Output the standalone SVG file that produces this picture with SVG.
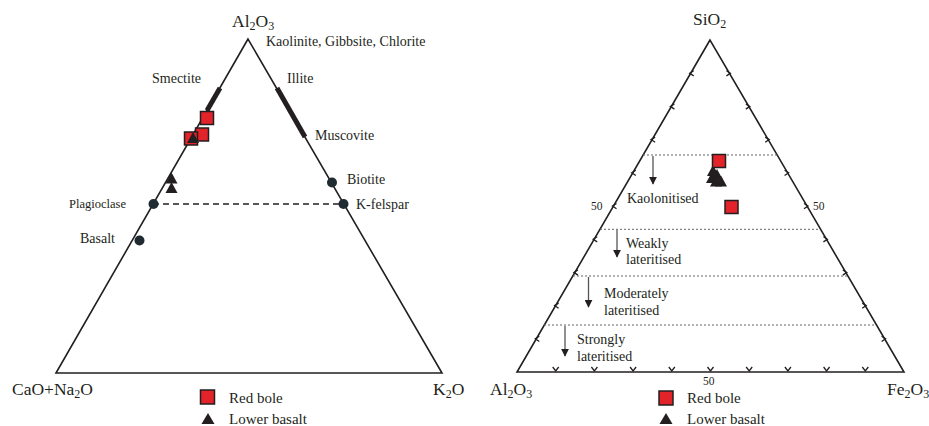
<svg xmlns="http://www.w3.org/2000/svg" width="929" height="426" viewBox="0 0 929 426">
<style>
text{font-family:"Liberation Serif","Times New Roman",serif;fill:#231f20}
.ax{font-size:17.5px}
.sub{font-size:12px}
.lb{font-size:14px}
.lg{font-size:15px}
.n50{font-size:11.5px}
.edge{fill:none;stroke:#231f20;stroke-width:1.6;stroke-linejoin:miter}
.bar{stroke:#231f20;stroke-width:5}
.tick{fill:none;stroke:#231f20;stroke-width:1.3}
.dot{stroke:#666;stroke-width:1;stroke-dasharray:2 2}
.dash{stroke:#231f20;stroke-width:1.5;stroke-dasharray:6 4}
.arr{stroke:#555;stroke-width:1.3;marker-end:url(#ah)}
.mn{fill:#1f2b30}
.sq{fill:#e2232a;stroke:#231f20;stroke-width:1.5}
.tr{fill:#231f20}
</style>
<defs>
<marker id="ah" viewBox="0 0 10 10" refX="9" refY="5" markerWidth="8" markerHeight="8" markerUnits="userSpaceOnUse" orient="auto"><path d="M0,0 L10,5 L0,10Z" fill="#231f20"/></marker>
<rect id="sqr" class="sq" x="-6.5" y="-6.5" width="13" height="13"/>
<path id="tri" class="tr" d="M0,-6 L6,5 L-6,5Z"/>
</defs>

<!-- LEFT TERNARY -->
<g id="left-frame">
<path class="edge" d="M248,39 L56,373 L442,373 Z"/>
</g>
<g id="left-connectors">
<line class="bar" x1="220" y1="88" x2="207" y2="110.5"/>
<line class="bar" x1="277" y1="88" x2="305" y2="137"/>
<line class="dash" x1="153" y1="204" x2="343" y2="204"/>
</g>
<g id="left-labels">
<text class="ax" x="232" y="27">Al<tspan class="sub" dy="3">2</tspan><tspan dy="-3">O</tspan><tspan class="sub" dy="3">3</tspan></text>
<text class="lb" x="266" y="46">Kaolinite, Gibbsite, Chlorite</text>
<text class="lb" x="152" y="83">Smectite</text>
<text class="lb" x="287" y="83">Illite</text>
<text class="lb" x="315" y="140">Muscovite</text>
<text class="ax" x="12" y="395">CaO+Na<tspan class="sub" dy="3">2</tspan><tspan dy="-3">O</tspan></text>
<text class="ax" x="433" y="395">K<tspan class="sub" dy="3">2</tspan><tspan dy="-3">O</tspan></text>
</g>
<g id="node-biotite"><circle class="mn" cx="332" cy="182.5" r="5"/><text class="lb" x="347" y="184">Biotite</text></g>
<g id="node-kfelspar"><circle class="mn" cx="343.5" cy="204" r="5"/><text class="lb" x="356" y="209">K-felspar</text></g>
<g id="node-plagioclase"><circle class="mn" cx="153.5" cy="204" r="5"/><text x="69" y="208" style="font-size:12.5px">Plagioclase</text></g>
<g id="node-basalt"><circle class="mn" cx="139.5" cy="240.5" r="5"/><text class="lb" x="80" y="243">Basalt</text></g>
<g id="left-data">
<use href="#sqr" x="207" y="118"/>
<use href="#sqr" x="202" y="134.5"/>
<use href="#sqr" x="191" y="138.5"/>
<use href="#tri" x="193" y="138"/>
<use href="#tri" x="171.5" y="178.5"/>
<use href="#tri" x="171.5" y="188"/>
</g>
<g id="left-legend">
<rect class="sq" x="200.5" y="390" width="14" height="14"/>
<text class="lg" x="229" y="403">Red bole</text>
<path class="tr" d="M208,413 L214.5,424 L201.5,424Z"/>
<text class="lg" x="229" y="424">Lower basalt</text>
</g>

<!-- RIGHT TERNARY -->
<g id="right-frame">
<path class="edge" d="M710,40 L517,372 L904,372 Z"/>
</g>
<g id="right-ticks">
<path class="tick" d="M693.7,70.7 L689.7,73.2 L693.7,75.9 M674.4,103.9 L670.4,106.4 L674.4,109.1 M655.1,137.1 L651.1,139.6 L655.1,142.3 M635.8,170.3 L631.8,172.8 L635.8,175.5 M616.5,203.5 L612.5,206 L616.5,208.7 M597.2,236.7 L593.2,239.2 L597.2,241.9 M577.9,269.9 L573.9,272.4 L577.9,275.1 M558.6,303.1 L554.6,305.6 L558.6,308.3 M539.3,336.3 L535.3,338.8 L539.3,341.5"/>
<path class="tick" d="M726.4,70.7 L730.4,73.2 L726.4,75.9 M745.8,103.9 L749.8,106.4 L745.8,109.1 M765.2,137.1 L769.2,139.6 L765.2,142.3 M784.6,170.3 L788.6,172.8 L784.6,175.5 M804,203.5 L808,206 L804,208.7 M823.4,236.7 L827.4,239.2 L823.4,241.9 M842.8,269.9 L846.8,272.4 L842.8,275.1 M862.2,303.1 L866.2,305.6 L862.2,308.3 M881.6,336.3 L885.6,338.8 L881.6,341.5"/>
<path class="tick" d="M552.7,367 L555.7,371 L558.7,367 M591.4,367 L594.4,371 L597.4,367 M630.1,367 L633.1,371 L636.1,367 M668.8,367 L671.8,371 L674.8,367 M707.5,367 L710.5,371 L713.5,367 M746.2,367 L749.2,371 L752.2,367 M784.9,367 L787.9,371 L790.9,367 M823.6,367 L826.6,371 L829.6,367 M862.3,367 L865.3,371 L868.3,367"/>
</g>
<g id="right-connectors">
<line class="dot" x1="643" y1="155" x2="777" y2="155"/>
<line class="dot" x1="600" y1="229.3" x2="820" y2="229.3"/>
<line class="dot" x1="573" y1="276" x2="847" y2="276"/>
<line class="dot" x1="544" y1="325" x2="876" y2="325"/>
<line class="arr" x1="653" y1="156" x2="653" y2="184"/>
<line class="arr" x1="617" y1="230" x2="617" y2="257"/>
<line class="arr" x1="588.5" y1="277" x2="588.5" y2="307"/>
<line class="arr" x1="565" y1="326" x2="565" y2="356"/>
</g>
<g id="right-labels">
<text class="ax" x="693" y="25">SiO<tspan class="sub" dy="3">2</tspan></text>
<text class="ax" x="490" y="395">Al<tspan class="sub" dy="3">2</tspan><tspan dy="-3">O</tspan><tspan class="sub" dy="3">3</tspan></text>
<text class="ax" x="887" y="395">Fe<tspan class="sub" dy="3">2</tspan><tspan dy="-3">O</tspan><tspan class="sub" dy="3">3</tspan></text>
<text class="n50" x="591" y="210">50</text>
<text class="n50" x="813" y="210">50</text>
<text class="n50" x="703" y="385">50</text>
</g>
<g id="zone-kaolonitised"><text class="lb" x="627" y="203">Kaolonitised</text></g>
<g id="zone-weakly"><text class="lb" x="626" y="248">Weakly</text><text class="lb" x="626" y="264">lateritised</text></g>
<g id="zone-moderately"><text class="lb" x="604" y="298">Moderately</text><text class="lb" x="604" y="315">lateritised</text></g>
<g id="zone-strongly"><text class="lb" x="577" y="344">Strongly</text><text class="lb" x="577" y="361">lateritised</text></g>
<g id="right-data">
<use href="#tri" x="713" y="171"/>
<use href="#tri" x="717" y="175"/>
<use href="#tri" x="712" y="178"/>
<use href="#tri" x="716" y="181.5"/>
<use href="#tri" x="721" y="181.5"/>
<use href="#sqr" x="719" y="161"/>
<use href="#sqr" x="731.5" y="207"/>
</g>
<g id="right-legend">
<rect class="sq" x="659" y="391" width="14" height="14"/>
<text class="lg" x="687" y="403">Red bole</text>
<path class="tr" d="M666,413 L672.5,424 L659.5,424Z"/>
<text class="lg" x="687" y="424">Lower basalt</text>
</g>
</svg>
